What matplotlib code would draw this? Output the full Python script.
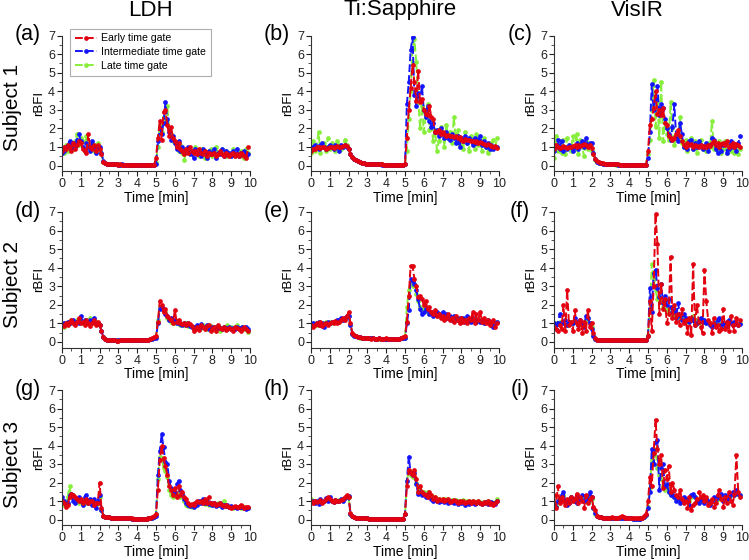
import matplotlib
matplotlib.use('Agg')
import matplotlib.pyplot as plt
import numpy as np
from matplotlib.ticker import MultipleLocator

plt.rcParams['font.family'] = ['Liberation Sans', 'DejaVu Sans']

TIME = np.round(np.arange(100) * 0.1, 1)
COLUMNS = ['LDH', 'Ti:Sapphire', 'VisIR']
SUBJECTS = ['Subject 1', 'Subject 2', 'Subject 3']
PANELS = ['(a)', '(b)', '(c)', '(d)', '(e)', '(f)', '(g)', '(h)', '(i)']
LEGEND = ['Early time gate', 'Intermediate time gate', 'Late time gate']

a_early = [0.8,1.0,0.9,1.1,1.0,0.8,1.2,0.9,1.1,1.3,
           1.2,0.9,0.8,0.7,1.7,1.0,0.9,1.1,0.8,1.1,
           0.9,0.6,0.2,0.12,0.1,0.08,0.08,0.07,0.06,0.06,
           0.05,0.06,0.05,0.05,0.04,0.05,0.05,0.04,0.05,0.05,
           0.05,0.04,0.05,0.05,0.04,0.05,0.05,0.05,0.04,0.05,
           0.4,1.5,2.4,1.4,2.9,3.0,2.2,1.6,2.1,1.5,
           1.3,1.0,1.2,0.9,0.8,0.6,0.9,0.7,1.0,0.8,
           0.7,0.8,0.6,0.9,0.7,0.6,0.8,0.5,0.7,0.6,
           0.6,0.7,0.5,0.6,0.8,0.6,0.5,0.7,0.6,0.5,
           0.6,0.7,0.5,0.6,0.5,0.7,0.6,0.5,0.4,1.0]
a_inter = [0.7,0.8,1.0,1.1,1.3,0.9,1.2,1.0,1.4,1.7,
           1.3,1.0,0.9,1.2,1.0,0.8,1.3,1.0,0.7,1.0,
           1.0,0.7,0.25,0.12,0.1,0.09,0.08,0.07,0.06,0.06,
           0.05,0.05,0.06,0.05,0.05,0.04,0.05,0.05,0.05,0.04,
           0.05,0.05,0.04,0.05,0.05,0.05,0.04,0.05,0.05,0.05,
           0.1,1.3,2.0,1.7,2.3,3.4,2.5,1.8,1.4,1.6,
           1.2,0.9,1.3,0.8,1.0,0.7,0.9,1.0,0.6,0.8,
           0.4,0.9,0.6,0.8,0.5,0.9,0.7,0.4,0.8,0.6,
           0.7,0.9,0.4,0.7,0.6,0.9,0.5,0.8,0.6,0.7,
           0.5,0.8,0.6,0.9,0.5,0.7,0.6,0.8,0.5,0.6]
a_late = [0.9,0.7,1.1,0.8,1.2,1.0,0.9,1.3,1.7,1.1,
          1.5,1.3,0.8,1.6,1.1,0.9,1.2,0.8,1.1,1.2,
          0.8,0.6,0.2,0.12,0.1,0.09,0.08,0.07,0.07,0.06,
          0.06,0.05,0.05,0.05,0.05,0.04,0.05,0.05,0.04,0.05,
          0.05,0.05,0.05,0.04,0.05,0.05,0.05,0.04,0.05,0.05,
          0.2,1.0,2.2,1.8,2.6,2.5,3.2,2.0,1.7,1.3,
          1.2,1.0,0.8,1.1,0.7,0.3,0.8,0.9,0.7,0.6,
          0.8,1.0,0.7,0.5,0.9,0.8,0.4,0.7,0.6,0.9,
          0.5,0.8,1.0,0.6,0.7,0.9,0.6,0.8,0.5,0.7,
          0.6,0.9,0.5,0.7,0.6,0.8,0.5,0.4,0.9,0.7]

b_early = [0.8,0.9,0.9,1.0,1.0,0.95,1.0,1.0,0.9,0.95,
           1.0,1.0,0.95,1.0,1.05,1.0,1.0,1.05,1.1,1.05,
           0.9,0.6,0.45,0.35,0.28,0.22,0.18,0.14,0.12,0.1,
           0.09,0.08,0.08,0.07,0.07,0.06,0.06,0.06,0.06,0.05,
           0.05,0.05,0.05,0.05,0.05,0.05,0.05,0.05,0.05,0.05,
           0.1,1.5,3.0,4.2,5.4,4.5,3.5,5.1,3.4,3.6,
           3.0,2.8,2.7,3.2,2.6,2.5,1.8,1.8,1.9,1.7,
           1.8,1.7,1.6,1.65,1.6,1.6,1.55,1.6,1.5,1.55,
           1.4,1.3,1.45,1.4,1.35,1.3,1.3,1.25,1.3,1.2,
           1.25,1.2,1.15,1.1,1.15,1.1,1.05,1.0,1.05,0.95]
b_inter = [0.9,1.0,1.1,1.0,0.9,1.1,1.2,1.0,0.9,1.0,
           1.1,1.0,0.9,1.1,1.0,0.8,1.1,1.0,1.1,1.0,
           0.9,0.62,0.46,0.36,0.28,0.22,0.18,0.15,0.12,0.1,
           0.09,0.08,0.08,0.07,0.07,0.06,0.06,0.06,0.05,0.05,
           0.05,0.05,0.05,0.05,0.05,0.05,0.05,0.05,0.05,0.05,
           0.1,3.3,4.5,6.2,6.9,3.8,3.2,3.9,3.5,4.3,
           3.0,2.6,3.2,2.4,2.1,2.3,1.8,1.9,1.6,2.0,
           1.7,1.5,1.8,1.5,1.4,1.7,1.5,1.2,1.6,1.0,
           1.5,1.3,1.6,1.2,1.5,1.4,1.1,1.5,1.2,1.4,
           1.6,1.1,1.3,1.0,1.2,0.9,1.1,0.9,1.0,1.0]
b_late = [0.7,1.3,0.8,1.0,1.8,0.7,1.1,1.2,0.8,1.5,
          0.9,1.2,1.0,0.8,1.3,1.1,0.9,1.0,1.4,1.1,
          0.9,0.6,0.45,0.35,0.28,0.22,0.18,0.14,0.12,0.1,
          0.09,0.08,0.08,0.07,0.07,0.06,0.06,0.06,0.06,0.05,
          0.05,0.05,0.05,0.05,0.05,0.05,0.05,0.05,0.05,0.05,
          0.1,0.8,2.5,4.0,6.3,6.8,5.6,3.6,2.0,3.2,
          1.8,2.6,3.3,1.9,2.3,1.3,1.9,0.8,1.3,2.1,
          1.7,1.0,2.2,1.5,1.8,1.2,2.6,1.4,1.9,1.1,
          1.5,0.9,1.8,1.2,0.8,1.6,1.2,0.9,1.7,1.1,
          1.3,0.8,1.5,1.0,0.7,1.2,0.9,1.4,1.0,1.5]

c_early = [0.9,1.1,1.0,0.95,1.0,1.05,1.0,0.95,1.0,1.0,
           1.05,1.1,1.0,1.1,1.05,1.1,1.15,1.1,1.0,1.1,
           0.95,0.6,0.35,0.25,0.18,0.14,0.12,0.1,0.09,0.08,
           0.07,0.07,0.06,0.06,0.06,0.05,0.05,0.05,0.05,0.05,
           0.05,0.05,0.05,0.05,0.05,0.05,0.05,0.05,0.05,0.05,
           0.8,2.2,2.5,3.1,4.0,2.8,3.0,2.7,3.1,2.3,
           2.2,1.6,1.5,1.4,1.5,1.7,1.9,1.6,1.3,1.1,
           1.0,1.2,1.1,1.15,1.0,1.1,1.05,1.0,1.1,1.0,
           1.05,1.0,1.1,1.05,1.2,1.3,1.1,1.2,1.0,1.15,
           1.2,1.1,1.3,1.0,1.1,1.2,1.0,1.15,1.1,1.0]
c_inter = [0.8,1.0,1.4,0.9,1.3,0.8,1.0,0.9,1.1,1.0,
           0.8,1.0,1.2,0.9,1.1,1.3,1.0,1.5,1.1,1.2,
           1.2,0.7,0.35,0.2,0.15,0.12,0.1,0.09,0.08,0.07,
           0.07,0.06,0.06,0.06,0.05,0.05,0.05,0.05,0.05,0.05,
           0.05,0.05,0.05,0.05,0.05,0.05,0.05,0.05,0.05,0.05,
           0.4,1.8,4.4,3.0,3.6,4.3,2.7,3.3,3.1,2.5,
           2.0,1.7,1.4,2.1,3.3,1.5,1.3,2.3,1.7,1.0,
           1.1,0.9,1.3,1.4,0.9,1.2,1.0,1.3,1.1,0.9,
           1.0,1.2,0.8,1.1,1.5,1.4,0.9,0.7,1.0,0.8,
           1.1,1.2,0.7,0.9,1.3,1.0,1.1,0.8,1.2,1.6]
c_late = [0.4,1.6,0.8,1.3,0.7,1.4,0.6,1.5,1.0,0.8,
          1.6,0.9,1.7,0.6,1.4,1.0,0.5,1.3,0.9,1.1,
          0.8,0.6,0.3,0.2,0.15,0.12,0.1,0.09,0.08,0.07,
          0.07,0.06,0.06,0.05,0.05,0.05,0.05,0.05,0.05,0.05,
          0.05,0.05,0.05,0.05,0.05,0.05,0.05,0.05,0.05,0.05,
          0.6,1.4,3.0,4.6,2.1,3.4,1.5,4.5,1.3,2.3,
          1.7,1.4,3.4,2.0,1.1,1.6,1.4,2.6,1.2,1.0,
          1.4,0.8,1.2,1.5,0.9,1.3,0.7,1.1,1.4,0.9,
          1.0,0.8,1.2,1.0,2.4,0.9,1.1,0.8,1.3,0.7,
          0.9,1.3,0.7,1.1,0.8,1.2,0.7,1.0,0.6,0.9]

d_early = [0.9,0.85,1.0,0.9,1.1,1.2,1.0,0.9,1.1,1.3,
           1.0,1.1,0.9,1.2,1.0,0.85,1.0,1.2,0.9,1.1,
           0.9,0.6,0.25,0.15,0.12,0.1,0.1,0.09,0.09,0.08,
           0.08,0.09,0.1,0.1,0.11,0.12,0.1,0.1,0.09,0.1,
           0.12,0.1,0.09,0.1,0.1,0.11,0.12,0.15,0.2,0.25,
           0.3,1.1,2.2,2.0,1.6,1.8,1.4,1.3,1.2,1.0,
           1.7,1.1,1.2,1.0,0.95,1.0,0.9,1.0,0.95,0.85,
           0.6,0.7,0.8,0.65,0.9,0.8,0.7,0.85,0.9,0.6,
           0.7,0.8,0.6,0.9,0.75,0.7,0.8,0.65,0.7,0.75,
           0.7,0.6,0.8,0.75,0.7,0.6,0.7,0.8,0.7,0.6]
d_inter = [0.9,1.0,0.95,1.1,1.0,1.15,1.2,1.0,1.1,1.0,
           1.4,1.1,1.2,1.0,1.05,1.2,1.1,1.3,1.0,1.0,
           0.9,0.6,0.25,0.15,0.12,0.1,0.1,0.09,0.09,0.08,
           0.09,0.1,0.1,0.11,0.1,0.12,0.11,0.1,0.1,0.1,
           0.11,0.1,0.1,0.1,0.11,0.1,0.12,0.14,0.18,0.2,
           0.2,1.0,1.8,1.9,1.7,1.5,1.4,1.2,1.3,1.1,
           1.2,1.0,1.1,0.95,0.9,1.0,0.9,1.0,0.85,0.8,
           0.8,0.75,0.9,0.7,0.95,0.8,0.75,0.9,0.7,0.8,
           0.75,0.8,0.7,0.85,0.75,0.7,0.8,0.7,0.75,0.8,
           0.7,0.75,0.7,0.8,0.75,0.7,0.8,0.75,0.8,0.7]
d_late = [0.9,0.8,1.0,1.1,1.0,1.2,1.1,1.0,1.2,1.1,
          1.2,1.0,1.1,1.2,1.0,1.3,1.1,1.0,1.1,0.95,
          0.9,0.6,0.25,0.16,0.12,0.11,0.1,0.1,0.09,0.09,
          0.1,0.1,0.11,0.1,0.12,0.11,0.1,0.1,0.11,0.1,
          0.1,0.11,0.1,0.1,0.1,0.11,0.12,0.15,0.18,0.22,
          0.25,1.2,1.9,1.8,1.6,1.6,1.3,1.2,1.1,1.0,
          1.0,1.1,1.0,0.9,0.95,0.9,1.0,0.85,0.9,0.8,
          0.75,0.8,0.85,0.8,0.75,0.9,0.8,0.7,0.75,0.85,
          0.7,0.8,0.75,0.8,0.6,0.75,0.8,0.7,0.9,0.75,
          0.8,0.7,0.75,0.9,0.7,0.75,0.8,0.7,0.7,0.55]

e_early = [0.9,0.8,0.9,1.0,0.9,1.1,0.85,0.95,1.0,0.9,
           1.0,1.1,1.0,1.15,1.0,1.1,1.2,1.3,1.2,1.4,
           1.6,1.0,0.5,0.35,0.3,0.28,0.25,0.22,0.2,0.2,
           0.22,0.2,0.18,0.2,0.18,0.17,0.2,0.18,0.17,0.18,
           0.19,0.17,0.16,0.18,0.17,0.16,0.17,0.18,0.2,0.25,
           0.3,1.1,2.5,4.1,4.1,3.4,3.0,2.4,2.5,2.3,
           2.0,2.2,1.8,1.9,1.6,1.5,1.7,1.4,1.5,1.3,
           1.4,1.2,1.3,1.5,1.2,1.3,1.1,1.4,1.2,1.0,
           1.3,1.1,1.2,1.0,1.3,1.2,1.6,1.0,1.5,1.2,
           1.6,1.1,1.3,1.0,1.2,0.9,1.1,1.2,0.8,1.0]
e_inter = [0.9,1.0,0.95,1.0,1.1,0.9,1.0,0.8,1.0,1.05,
           1.0,1.1,1.05,1.1,1.2,1.2,1.3,1.2,1.3,1.4,
           1.4,0.9,0.45,0.33,0.3,0.27,0.25,0.22,0.2,0.2,
           0.21,0.2,0.19,0.2,0.18,0.18,0.19,0.18,0.17,0.18,
           0.18,0.17,0.17,0.18,0.17,0.16,0.17,0.18,0.19,0.2,
           0.2,1.0,1.7,3.4,3.3,3.1,2.8,2.3,1.8,1.5,
           1.6,1.8,1.7,1.5,1.6,1.4,1.5,1.6,1.5,1.4,
           1.6,1.3,1.5,1.3,1.4,1.2,1.4,1.3,1.2,1.3,
           1.2,1.3,1.1,1.4,1.2,1.1,1.3,1.2,1.1,1.2,
           1.1,1.2,1.0,1.1,1.2,1.0,0.9,0.8,1.0,1.1]
e_late = [0.9,0.95,1.0,0.9,1.05,1.0,0.95,1.0,1.05,1.0,
          1.05,1.0,1.1,1.05,1.15,1.1,1.2,1.25,1.3,1.35,
          1.4,0.9,0.45,0.34,0.3,0.27,0.24,0.22,0.2,0.2,
          0.2,0.2,0.19,0.19,0.18,0.18,0.18,0.18,0.17,0.17,
          0.17,0.17,0.17,0.17,0.17,0.17,0.17,0.18,0.19,0.2,
          0.2,1.9,2.8,3.2,3.0,3.1,2.6,2.2,1.9,1.7,
          1.8,1.7,1.6,1.5,1.6,1.6,1.5,1.4,1.5,1.4,
          1.5,1.4,1.3,1.4,1.3,1.3,1.3,1.2,1.3,1.2,
          1.3,1.2,1.2,1.3,1.2,1.2,1.2,1.3,1.2,1.2,
          1.2,1.1,1.2,1.1,1.1,1.0,1.0,0.9,1.0,1.1]

f_early = [0.8,0.7,0.6,0.9,0.7,2.0,0.6,2.8,0.9,1.1,
           0.6,1.7,1.0,0.7,1.2,0.5,1.1,0.6,1.7,0.8,
           1.0,0.5,0.2,0.12,0.1,0.1,0.1,0.1,0.09,0.1,
           0.1,0.09,0.1,0.1,0.1,0.09,0.1,0.1,0.1,0.09,
           0.1,0.1,0.09,0.1,0.1,0.1,0.1,0.09,0.1,0.1,
           0.3,2.2,0.6,3.0,6.9,5.3,1.5,3.1,1.8,2.3,
           1.0,1.5,4.6,1.3,2.0,1.1,1.5,0.9,1.8,1.0,
           1.2,0.5,1.3,0.4,4.2,0.9,2.0,1.1,0.8,0.5,
           3.9,2.2,1.2,1.0,0.5,1.3,0.8,0.9,0.6,0.7,
           1.8,0.7,1.1,0.6,1.4,0.9,0.6,1.3,0.9,1.2]
f_inter = [1.0,0.9,1.0,1.5,1.1,1.0,1.2,0.9,1.1,1.0,
           1.0,1.3,1.1,0.9,1.2,1.0,0.8,1.4,1.3,1.0,
           0.7,0.3,0.15,0.12,0.1,0.1,0.1,0.1,0.1,0.1,
           0.1,0.1,0.1,0.1,0.1,0.1,0.1,0.1,0.1,0.1,
           0.1,0.1,0.1,0.1,0.1,0.1,0.1,0.1,0.1,0.1,
           0.3,2.9,1.6,3.7,3.9,2.9,2.4,3.1,2.1,2.5,
           2.0,2.3,1.9,1.6,1.8,1.3,2.1,1.4,1.2,1.5,
           1.3,1.2,1.1,1.3,1.2,0.9,1.0,1.2,1.3,1.1,
           1.2,1.0,1.1,0.9,0.8,1.0,0.9,1.2,1.3,0.9,
           1.0,0.8,1.1,1.2,1.0,0.9,1.1,1.0,0.9,0.95]
f_late = [0.9,1.0,0.95,1.1,1.0,1.05,1.1,0.9,1.0,1.05,
          1.0,1.1,1.0,0.95,1.1,1.0,0.9,1.2,1.3,1.0,
          0.8,0.35,0.15,0.12,0.1,0.1,0.1,0.1,0.1,0.1,
          0.1,0.1,0.1,0.1,0.1,0.1,0.1,0.1,0.1,0.1,
          0.1,0.1,0.1,0.1,0.1,0.1,0.1,0.1,0.1,0.1,
          0.4,1.7,4.2,3.4,2.8,2.3,2.4,2.2,1.9,1.8,
          1.7,1.6,1.5,1.4,1.5,1.3,1.4,1.3,1.2,1.3,
          1.2,1.1,1.2,1.3,1.4,1.1,1.2,1.0,1.1,1.2,
          1.1,1.0,1.1,1.0,0.9,1.0,1.1,1.0,1.0,0.9,
          1.0,0.9,1.0,1.1,1.0,0.95,1.0,1.0,0.95,1.0]

g_early = [1.0,0.9,0.7,0.8,1.2,1.4,1.3,1.2,1.1,1.0,
           1.1,0.9,1.0,1.1,0.9,1.0,1.0,0.8,0.9,0.9,
           2.0,0.6,0.2,0.15,0.15,0.12,0.1,0.1,0.1,0.09,
           0.09,0.08,0.08,0.07,0.07,0.08,0.07,0.06,0.05,0.05,
           0.05,0.05,0.05,0.04,0.04,0.05,0.06,0.08,0.12,0.2,
           0.3,1.6,3.2,4.0,3.3,2.9,2.4,1.8,1.6,1.3,
           1.7,1.2,1.8,1.3,1.5,1.2,1.1,0.9,0.8,0.85,
           0.8,0.9,1.0,0.95,1.0,0.9,1.1,0.9,1.2,0.9,
           0.85,0.9,0.8,0.85,0.9,0.8,0.75,0.8,0.75,0.7,
           0.6,0.7,0.75,0.65,0.7,0.8,0.75,0.6,0.7,0.65]
g_inter = [1.2,1.0,0.8,0.9,1.3,1.4,1.0,0.9,1.1,1.2,
           1.0,0.8,1.2,1.3,0.9,1.1,0.8,1.1,0.6,1.0,
           1.3,0.5,0.2,0.15,0.13,0.12,0.1,0.1,0.09,0.09,
           0.08,0.08,0.07,0.07,0.07,0.06,0.06,0.05,0.05,0.05,
           0.05,0.04,0.04,0.04,0.05,0.05,0.06,0.08,0.1,0.15,
           0.2,2.4,3.7,4.6,3.9,3.1,3.0,2.1,1.7,1.6,
           1.5,1.9,2.1,1.6,1.4,1.1,0.9,0.8,0.75,0.8,
           0.7,0.9,0.8,1.0,0.9,1.1,0.9,1.0,0.85,0.9,
           0.8,0.9,0.75,0.8,0.9,0.7,0.8,0.75,0.8,0.7,
           0.75,0.65,0.7,0.6,0.7,0.65,0.7,0.6,0.55,0.6]
g_late = [0.9,0.8,1.0,1.2,1.8,1.2,1.3,1.0,1.1,0.9,
          1.0,1.0,1.1,0.9,1.0,0.9,1.0,1.0,0.8,0.9,
          1.2,0.5,0.2,0.15,0.13,0.12,0.1,0.1,0.09,0.09,
          0.08,0.08,0.07,0.07,0.07,0.06,0.06,0.05,0.05,0.05,
          0.05,0.05,0.04,0.04,0.05,0.05,0.06,0.08,0.1,0.15,
          0.3,2.2,3.4,3.3,2.8,2.6,2.3,1.6,1.3,1.2,
          1.4,1.3,1.5,1.2,1.3,1.0,0.8,0.75,0.8,0.7,
          0.8,0.9,0.85,0.9,1.0,0.9,0.85,0.9,0.8,0.85,
          0.8,0.85,0.8,0.9,0.8,0.75,1.0,0.8,0.75,0.7,
          0.7,0.6,0.7,0.65,0.7,0.6,0.7,0.65,0.6,0.6]

h_early = [1.0,0.9,1.0,0.95,1.0,1.05,0.9,1.0,1.1,1.2,
           1.1,1.0,0.95,1.05,1.0,1.0,1.05,1.1,1.2,1.3,
           1.2,0.35,0.2,0.12,0.1,0.1,0.08,0.08,0.07,0.06,
           0.06,0.05,0.05,0.05,0.04,0.04,0.05,0.05,0.05,0.05,
           0.05,0.05,0.05,0.04,0.05,0.05,0.05,0.05,0.05,0.05,
           0.3,1.8,2.7,2.5,2.4,2.7,2.2,1.5,1.8,1.5,
           1.4,1.3,1.2,1.5,1.3,1.1,1.2,1.0,1.1,1.05,
           1.1,1.0,1.05,1.1,0.95,1.0,1.05,1.0,0.9,1.0,
           0.95,1.0,0.9,0.95,1.0,0.9,1.0,0.95,0.9,1.0,
           0.9,0.85,0.95,0.9,1.0,0.85,0.9,0.8,0.9,1.0]
h_inter = [0.95,1.0,0.9,1.0,0.85,1.1,0.95,1.0,1.15,1.0,
           1.2,1.0,0.95,1.05,1.0,1.0,1.1,1.0,1.15,1.25,
           1.25,0.3,0.18,0.12,0.1,0.09,0.08,0.07,0.07,0.06,
           0.06,0.05,0.05,0.05,0.05,0.04,0.05,0.05,0.05,0.05,
           0.05,0.05,0.04,0.05,0.05,0.05,0.05,0.05,0.05,0.05,
           0.3,2.1,3.4,2.5,2.4,2.5,1.9,1.4,1.5,1.3,
           1.4,1.2,1.3,1.2,1.1,1.0,1.05,1.0,0.95,1.0,
           1.05,0.95,1.0,0.9,1.0,0.95,0.9,1.0,0.85,0.95,
           0.9,0.95,0.8,0.9,0.85,0.95,0.9,0.85,0.9,0.95,
           0.9,0.85,0.9,0.95,0.85,0.9,0.95,0.9,0.85,1.0]
h_late = [1.1,1.0,1.0,0.95,1.0,1.05,1.0,1.0,1.05,1.1,
          1.05,1.0,1.0,1.05,1.0,1.05,1.05,1.1,1.15,1.2,
          1.2,0.3,0.18,0.12,0.1,0.09,0.08,0.07,0.07,0.06,
          0.06,0.05,0.05,0.05,0.05,0.05,0.05,0.05,0.05,0.05,
          0.05,0.05,0.05,0.05,0.05,0.05,0.05,0.05,0.05,0.05,
          0.3,2.1,2.6,2.4,2.3,2.6,2.0,1.5,1.6,1.4,
          1.5,1.4,1.5,1.2,1.3,1.1,1.2,1.1,1.1,1.05,
          1.1,1.05,1.1,1.05,1.0,1.05,1.0,1.05,1.0,1.0,
          1.0,1.05,0.95,1.0,1.0,0.95,1.0,0.95,0.95,1.0,
          0.95,0.9,0.95,0.9,1.0,0.9,0.95,0.9,0.95,1.1]

i_early = [1.3,0.6,1.8,0.9,1.2,1.0,0.8,1.1,0.9,1.2,
           1.0,1.1,1.4,0.9,1.2,1.0,0.6,1.3,0.9,1.1,
           1.2,0.7,0.5,0.2,0.15,0.12,0.1,0.1,0.1,0.1,
           0.1,0.12,0.1,0.1,0.1,0.15,0.2,0.15,0.1,0.1,
           0.08,0.1,0.1,0.08,0.07,0.06,0.06,0.1,0.2,0.3,
           1.0,2.3,1.8,3.6,5.4,3.8,3.0,3.5,1.7,2.7,
           2.2,2.9,1.5,2.0,1.6,1.3,1.2,1.6,1.1,0.9,
           1.0,0.6,1.2,0.5,0.8,0.9,1.1,1.5,1.2,1.3,
           1.0,1.2,0.8,0.9,1.1,0.7,0.9,1.3,1.6,1.1,
           0.7,1.2,0.9,1.5,1.0,0.8,1.4,3.5,1.5,1.2]
i_inter = [0.8,0.7,1.0,1.1,1.3,1.5,1.0,0.8,0.9,1.2,
           1.1,1.0,0.9,1.2,1.1,1.3,1.0,1.2,1.0,1.5,
           1.2,0.6,0.35,0.2,0.15,0.12,0.1,0.1,0.09,0.09,
           0.08,0.08,0.08,0.07,0.08,0.08,0.07,0.07,0.06,0.06,
           0.06,0.06,0.05,0.05,0.05,0.05,0.05,0.08,0.15,0.25,
           0.6,1.5,3.8,3.0,4.2,4.3,1.6,2.8,3.0,1.8,
           1.9,1.5,1.3,1.4,1.2,1.0,1.1,0.9,1.0,1.2,
           1.0,1.1,0.8,1.3,1.4,1.2,1.0,0.9,1.1,1.0,
           0.9,1.1,1.0,0.8,1.0,1.2,1.1,1.3,1.2,1.4,
           1.0,1.3,1.1,1.2,1.4,1.5,1.3,1.6,1.4,1.3]
i_late = [0.9,0.8,1.0,1.2,1.1,1.3,1.0,0.9,1.1,1.2,
          1.0,1.1,1.0,1.2,1.1,1.2,1.0,1.1,1.0,1.2,
          1.1,0.6,0.3,0.2,0.15,0.12,0.1,0.1,0.09,0.09,
          0.08,0.08,0.08,0.08,0.07,0.07,0.07,0.07,0.06,0.06,
          0.06,0.06,0.05,0.05,0.05,0.05,0.05,0.08,0.15,0.25,
          0.7,1.7,3.2,3.5,3.8,2.8,2.4,2.2,1.8,1.6,
          1.7,1.5,1.4,1.3,1.2,1.1,1.2,1.0,1.1,1.1,
          1.0,1.1,1.0,1.2,1.3,1.2,1.0,1.1,1.0,1.1,
          1.0,1.1,1.0,0.9,1.0,1.1,1.0,1.2,1.1,1.3,
          1.1,1.2,1.1,1.2,1.3,1.4,1.3,1.5,1.4,1.3]

PANEL_DATA = [
    (a_early, a_inter, a_late), (b_early, b_inter, b_late), (c_early, c_inter, c_late),
    (d_early, d_inter, d_late), (e_early, e_inter, e_late), (f_early, f_inter, f_late),
    (g_early, g_inter, g_late), (h_early, h_inter, h_late), (i_early, i_inter, i_late),
]

COLORS = ['#e3000f', '#1414ff', '#88ee3c']

W, H = 749, 560
fig = plt.figure(figsize=(W / 100, H / 100), dpi=100)

col_left = [62, 311, 554]
col_w = 188
row_top = [35.5, 212, 390]
row_zero = [165.5, 342, 519.5]
YMIN, YMAX = -0.3, 7

for r in range(3):
    for c in range(3):
        top = row_top[r]
        scale = (row_zero[r] - top) / YMAX
        bottom = row_zero[r] + (-YMIN) * scale
        ax = fig.add_axes([col_left[c] / W, 1 - bottom / H, col_w / W, (bottom - top) / H])
        early, inter, late = PANEL_DATA[r * 3 + c]
        order = [(late, COLORS[2], LEGEND[2]), (inter, COLORS[1], LEGEND[1]), (early, COLORS[0], LEGEND[0])]
        for vals, col, lab in order:
            ax.plot(TIME, vals, color=col, linestyle=(0, (4, 1.6)), linewidth=1.4,
                    marker='o', markersize=3.4, markeredgewidth=0, label=lab)
        ax.set_xlim(0, 10)
        ax.set_ylim(YMIN, YMAX)
        ax.xaxis.set_major_locator(MultipleLocator(1))
        ax.xaxis.set_minor_locator(MultipleLocator(0.5))
        ax.yaxis.set_major_locator(MultipleLocator(1))
        ax.yaxis.set_minor_locator(MultipleLocator(0.5))
        for s in ['top', 'right']:
            ax.spines[s].set_visible(False)
        for s in ['left', 'bottom']:
            ax.spines[s].set_linewidth(0.8)
            ax.spines[s].set_color('#333333')
        ax.tick_params(which='major', direction='out', length=3.5, width=0.8, labelsize=9,
                       pad=1.5, colors='#222222')
        ax.tick_params(which='minor', direction='out', length=2, width=0.6, colors='#333333')
        ax.set_xlabel('Time [min]', fontsize=10, labelpad=0.5)
        ax.set_ylabel('rBFI', fontsize=9.5, labelpad=2)
        ax.set_facecolor('none')
        fig.text((col_left[c] - 34) / W, 1 - (top - 1) / H, PANELS[r * 3 + c],
                 fontsize=15.5, ha='center', va='center')
        if r == 0 and c == 0:
            handles, labels = ax.get_legend_handles_labels()
            leg = ax.legend(handles[::-1], labels[::-1], loc='upper left',
                            bbox_to_anchor=(0.043, 1.05), borderaxespad=0,
                            fontsize=7.6, frameon=True, fancybox=False,
                            handlelength=2.1, handletextpad=0.4, labelspacing=0.35,
                            borderpad=0.45)
            leg.get_frame().set_edgecolor('#999999')
            leg.get_frame().set_linewidth(0.8)

title_x = [150, 400, 637]
for c in range(3):
    fig.text(title_x[c] / W, 1 - 10 / H, COLUMNS[c], fontsize=16, ha='center', va='center')

subj_y = [107, 285, 464]
for r in range(3):
    fig.text(12 / W, 1 - subj_y[r] / H, SUBJECTS[r], fontsize=15, rotation=90,
             ha='center', va='center')

fig.savefig('out.png', dpi=100)
